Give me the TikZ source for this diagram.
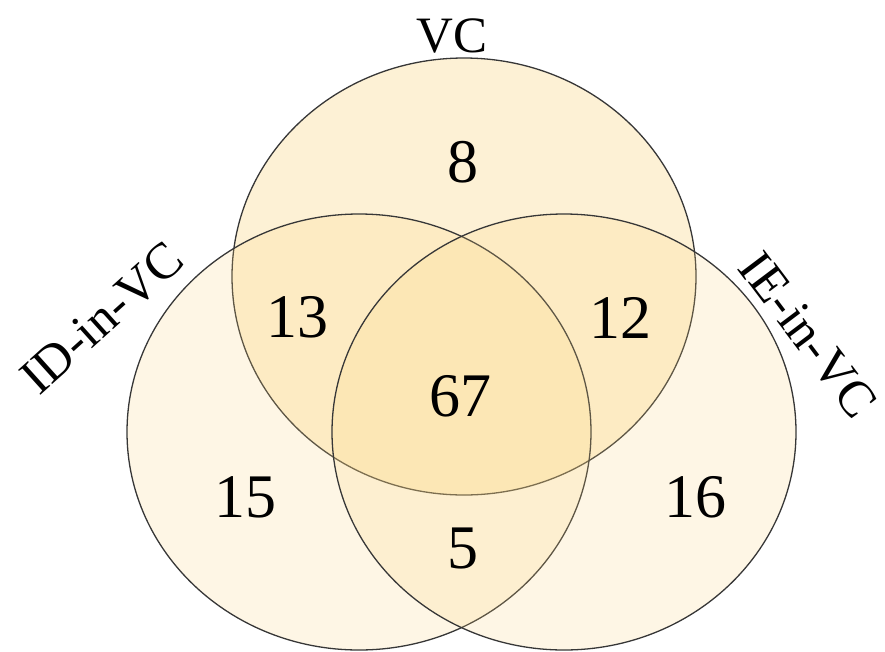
\documentclass[tikz,border=0pt]{standalone}
\usepackage{fontspec}
\setmainfont{Liberation Serif}
\definecolor{vennfill}{RGB}{250,212,125}
\definecolor{vennline}{RGB}{55,55,55}
\begin{document}
\begin{tikzpicture}[x=1pt,y=-1pt,
  setA/.style={fill=vennfill,fill opacity=0.32,draw=vennline,draw opacity=1,line width=1.3pt},
  setB/.style={fill=vennfill,fill opacity=0.2,draw=vennline,draw opacity=1,line width=1.3pt},
  num/.style={font=\fontsize{62}{68}\selectfont,text=black,inner sep=0pt},
  lab/.style={font=\fontsize{51}{56}\selectfont,text=black,inner sep=0pt}]
\useasboundingbox (0,0) rectangle (885,651);
\path[setA] (464,276.5) ellipse [x radius=232pt, y radius=218.5pt];
\path[setB] (359,432) ellipse [x radius=232pt, y radius=218pt];
\path[setB] (564,432) ellipse [x radius=232pt, y radius=218pt];
\node[lab] (vc) at (452,36) {VC};
\node[lab,rotate=42] (id) at (102,318) {ID-in-VC};
\node[lab,rotate=-53] (ie) at (808,335) {IE-in-VC};
\node[num] (n8) at (463,162) {8};
\node[num] (n13) at (297,317) {13};
\node[num] (n12) at (620,318) {12};
\node[num] (n67) at (460,396) {67};
\node[num] (n15) at (245,497) {15};
\node[num] (n5) at (463,548) {5};
\node[num] (n16) at (695,497) {16};
\end{tikzpicture}
\end{document}
